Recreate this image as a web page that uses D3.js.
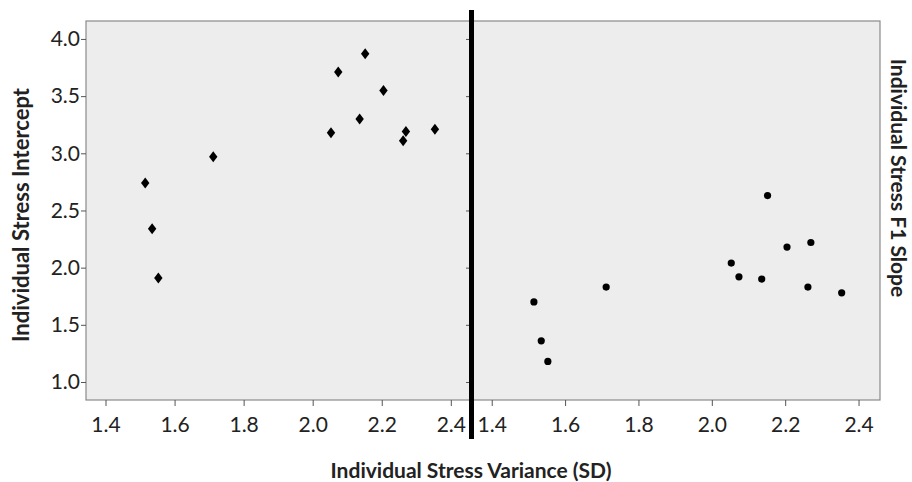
<!DOCTYPE html>
<html>
<head>
<meta charset="utf-8">
<script src="https://cdn.jsdelivr.net/npm/d3@7"></script>
<style>
  body { margin: 0; background: #fff; }
  svg text { font-family: "Lato", "Open Sans", sans-serif; fill: #222; }
</style>
</head>
<body>
<div id="chart"></div>
<script>
// stress variance (SD) for each person, shared by both panels
const variance = [1.515, 1.535, 1.553, 1.712, 2.053, 2.074, 2.136, 2.152, 2.205, 2.262, 2.27, 2.354];
const intercept = [2.74, 2.34, 1.91, 2.97, 3.18, 3.71, 3.30, 3.87, 3.55, 3.11, 3.19, 3.21];
const slope = [1.70, 1.36, 1.18, 1.83, 2.04, 1.92, 1.90, 2.63, 2.18, 1.83, 2.22, 1.78];
const xTicks = [1.4, 1.6, 1.8, 2.0, 2.2, 2.4];
const yTicks = [1.0, 1.5, 2.0, 2.5, 3.0, 3.5, 4.0];

const width = 912, height = 482;
const plotTop = 21, plotBottom = 400;

const svg = d3.select("#chart").append("svg")
  .attr("width", width)
  .attr("height", height);

const y = d3.scaleLinear().domain([0.8425, 4.157]).range([plotBottom, plotTop]);

function drawPanel(x0, x1, values, marker, showYLabels) {
  const x = d3.scaleLinear().domain([1.3435, 2.4585]).range([x0, x1]);

  svg.append("rect")
    .attr("x", x0).attr("y", plotTop)
    .attr("width", x1 - x0).attr("height", plotBottom - plotTop)
    .attr("fill", "#ededed")
    .attr("stroke", "#8a8a8a")
    .attr("stroke-width", 1.2);

  const xAxis = svg.append("g")
    .attr("transform", `translate(0,${plotBottom})`)
    .call(d3.axisBottom(x).tickValues(xTicks).tickFormat(d3.format(".1f")).tickSize(6).tickSizeOuter(0).tickPadding(11));
  xAxis.select(".domain").remove();
  xAxis.selectAll("line").attr("stroke", "#555");
  xAxis.selectAll("text").style("font-size", "21px").attr("fill", "#222");

  const yAxis = svg.append("g")
    .attr("transform", `translate(${x0},0)`)
    .call(d3.axisLeft(y).tickValues(yTicks).tickFormat(d3.format(".1f")).tickSize(5).tickSizeOuter(0).tickPadding(1));
  yAxis.select(".domain").remove();
  yAxis.selectAll("line").attr("stroke", "#555");
  yAxis.selectAll("text").style("font-size", "21px").attr("fill", "#222");
  if (!showYLabels) yAxis.selectAll("text").remove();

  const g = svg.append("g");
  if (marker === "diamond") {
    g.selectAll("path")
      .data(values)
      .enter()
      .append("path")
      .attr("transform", (d, i) => `translate(${x(variance[i])},${y(d)})`)
      .attr("d", "M0,-5.5 L4.2,0 L0,5.5 L-4.2,0 Z")
      .attr("fill", "#000");
  } else {
    g.selectAll("circle")
      .data(values)
      .enter()
      .append("circle")
      .attr("cx", (d, i) => x(variance[i]))
      .attr("cy", (d) => y(d))
      .attr("r", 3.6)
      .attr("fill", "#000");
  }
}

drawPanel(86, 471, intercept, "diamond", true);
drawPanel(471, 880, slope, "circle", false);

// thick divider between the two panels
svg.append("line")
  .attr("x1", 471.5).attr("x2", 471.5)
  .attr("y1", 10).attr("y2", 439)
  .attr("stroke", "#000")
  .attr("stroke-width", 5);

svg.append("text")
  .attr("x", 471)
  .attr("y", 478)
  .attr("text-anchor", "middle")
  .style("font-size", "21px")
  .style("font-weight", "bold")
  .text("Individual Stress Variance (SD)");

svg.append("text")
  .attr("transform", "translate(29,215) rotate(-90)")
  .attr("text-anchor", "middle")
  .style("font-size", "22px")
  .style("font-weight", "bold")
  .text("Individual Stress Intercept");

svg.append("text")
  .attr("transform", "translate(891,178) rotate(90)")
  .attr("text-anchor", "middle")
  .style("font-size", "21px")
  .style("font-weight", "bold")
  .text("Individual Stress F1 Slope");
</script>
</body>
</html>
